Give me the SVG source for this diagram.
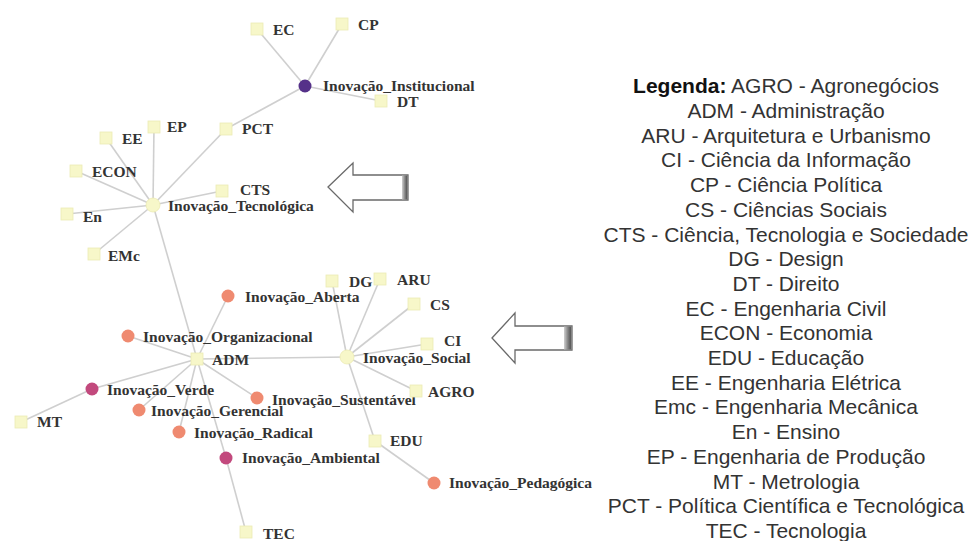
<svg xmlns="http://www.w3.org/2000/svg" width="972" height="541" viewBox="0 0 972 541">
<style>
.e{stroke:#cfcfcf;stroke-width:1.6;fill:none}
.sq{fill:#f7f7c9;stroke:#ecebb4;stroke-width:0.8}
.hub{fill:#f7f7c9;stroke:#ecebb4;stroke-width:0.8}
.sal{fill:#ef8a70}
.mag{fill:#c2497d}
.pur{fill:#553189}
.t{font-family:"Liberation Serif","Times New Roman",serif;font-weight:bold;font-size:15.5px;fill:#333}
.lg{font-family:"Liberation Sans",Arial,sans-serif;font-size:21px;fill:#333;text-anchor:middle}
.arr{fill:#fff;stroke:#6a6a6a;stroke-width:1.3;stroke-linejoin:miter}
</style>
<defs>
<linearGradient id="strip" x1="0" y1="0" x2="1" y2="0">
<stop offset="0" stop-color="#d0d0d0"/>
<stop offset="0.45" stop-color="#8a8a8a"/>
<stop offset="0.8" stop-color="#5a5a5a"/>
<stop offset="1" stop-color="#9a9a9a"/>
</linearGradient>
</defs>
<rect width="972" height="541" fill="#fff"/>
<g id="connectors">
<line class="e" x1="305" y1="86" x2="257" y2="29"/>
<line class="e" x1="305" y1="86" x2="342" y2="24"/>
<line class="e" x1="305" y1="86" x2="381" y2="101"/>
<line class="e" x1="305" y1="86" x2="226" y2="129"/>
<line class="e" x1="226" y1="129" x2="153" y2="205"/>
<line class="e" x1="153" y1="205" x2="106" y2="138"/>
<line class="e" x1="153" y1="205" x2="154" y2="127"/>
<line class="e" x1="153" y1="205" x2="76" y2="171"/>
<line class="e" x1="153" y1="205" x2="222" y2="191"/>
<line class="e" x1="153" y1="205" x2="67" y2="214"/>
<line class="e" x1="153" y1="205" x2="94" y2="254"/>
<line class="e" x1="153" y1="205" x2="197" y2="359"/>
<line class="e" x1="197" y1="359" x2="228" y2="296"/>
<line class="e" x1="197" y1="359" x2="128" y2="336"/>
<line class="e" x1="197" y1="359" x2="92" y2="389"/>
<line class="e" x1="197" y1="359" x2="139" y2="410"/>
<line class="e" x1="197" y1="359" x2="179" y2="432"/>
<line class="e" x1="197" y1="359" x2="226" y2="458"/>
<line class="e" x1="197" y1="359" x2="257" y2="398"/>
<line class="e" x1="197" y1="359" x2="347" y2="357"/>
<line class="e" x1="92" y1="389" x2="21" y2="422"/>
<line class="e" x1="226" y1="458" x2="246" y2="532"/>
<line class="e" x1="347" y1="357" x2="332" y2="281"/>
<line class="e" x1="347" y1="357" x2="380" y2="279"/>
<line class="e" x1="347" y1="357" x2="414" y2="304"/>
<line class="e" x1="347" y1="357" x2="427" y2="344"/>
<line class="e" x1="347" y1="357" x2="416" y2="391"/>
<line class="e" x1="347" y1="357" x2="375" y2="441"/>
<line class="e" x1="375" y1="441" x2="434" y2="483"/>
</g>
<g id="n-EC"><rect class="sq" x="251" y="23" width="12" height="12"/><text class="t" x="273" y="35">EC</text></g>
<g id="n-CP"><rect class="sq" x="336" y="18" width="12" height="12"/><text class="t" x="358" y="30">CP</text></g>
<g id="n-Institucional"><circle class="pur" cx="305" cy="86" r="6.5"/><text class="t" x="323" y="91">Inovação_Institucional</text></g>
<g id="n-DT"><rect class="sq" x="375" y="95" width="12" height="12"/><text class="t" x="397" y="107">DT</text></g>
<g id="n-PCT"><rect class="sq" x="220" y="123" width="12" height="12"/><text class="t" x="242" y="134">PCT</text></g>
<g id="n-EP"><rect class="sq" x="148" y="121" width="12" height="12"/><text class="t" x="167" y="132">EP</text></g>
<g id="n-EE"><rect class="sq" x="100" y="132" width="12" height="12"/><text class="t" x="122" y="144">EE</text></g>
<g id="n-ECON"><rect class="sq" x="70" y="165" width="12" height="12"/><text class="t" x="92" y="177">ECON</text></g>
<g id="n-CTS"><rect class="sq" x="216" y="185" width="12" height="12"/><text class="t" x="240" y="195">CTS</text></g>
<g id="n-Tecnologica"><circle class="hub" cx="153" cy="205" r="7"/><text class="t" x="168" y="211">Inovação_Tecnológica</text></g>
<g id="n-En"><rect class="sq" x="61" y="208" width="12" height="12"/><text class="t" x="83" y="222">En</text></g>
<g id="n-EMc"><rect class="sq" x="88" y="248" width="12" height="12"/><text class="t" x="108" y="261">EMc</text></g>
<g id="n-Aberta"><circle class="sal" cx="228" cy="296" r="6.5"/><text class="t" x="245" y="302">Inovação_Aberta</text></g>
<g id="n-Organizacional"><circle class="sal" cx="128" cy="336" r="6.5"/><text class="t" x="143" y="342">Inovação_Organizacional</text></g>
<g id="n-ADM"><rect class="sq" x="191" y="353" width="12" height="12"/><text class="t" x="212" y="365">ADM</text></g>
<g id="n-Verde"><circle class="mag" cx="92" cy="389" r="6.5"/><text class="t" x="107" y="395">Inovação_Verde</text></g>
<g id="n-Gerencial"><circle class="sal" cx="139" cy="410" r="6.5"/><text class="t" x="151" y="416">Inovação_Gerencial</text></g>
<g id="n-Sustentavel"><circle class="sal" cx="257" cy="398" r="6.5"/><text class="t" x="272" y="405">Inovação_Sustentável</text></g>
<g id="n-Radical"><circle class="sal" cx="179" cy="432" r="6.5"/><text class="t" x="194" y="438">Inovação_Radical</text></g>
<g id="n-Ambiental"><circle class="mag" cx="226" cy="458" r="6.5"/><text class="t" x="242" y="463">Inovação_Ambiental</text></g>
<g id="n-MT"><rect class="sq" x="15" y="416" width="12" height="12"/><text class="t" x="37" y="427">MT</text></g>
<g id="n-TEC"><rect class="sq" x="240" y="526" width="12" height="12"/><text class="t" x="263" y="539">TEC</text></g>
<g id="n-DG"><rect class="sq" x="326" y="275" width="12" height="12"/><text class="t" x="349" y="287">DG</text></g>
<g id="n-ARU"><rect class="sq" x="374" y="273" width="12" height="12"/><text class="t" x="397" y="285">ARU</text></g>
<g id="n-CS"><rect class="sq" x="408" y="298" width="12" height="12"/><text class="t" x="430" y="310">CS</text></g>
<g id="n-CI"><rect class="sq" x="421" y="338" width="12" height="12"/><text class="t" x="444" y="346">CI</text></g>
<g id="n-Social"><circle class="hub" cx="347" cy="357" r="7"/><text class="t" x="363" y="363">Inovação_Social</text></g>
<g id="n-AGRO"><rect class="sq" x="410" y="385" width="12" height="12"/><text class="t" x="428" y="397">AGRO</text></g>
<g id="n-EDU"><rect class="sq" x="369" y="435" width="12" height="12"/><text class="t" x="390" y="446">EDU</text></g>
<g id="n-Pedagogica"><circle class="sal" cx="434" cy="483" r="6.5"/><text class="t" x="449" y="488">Inovação_Pedagógica</text></g>
<g id="arrow1">
<polygon class="arr" points="328,187 353,163 353,175 408,175 408,200 353,200 353,212"/>
<rect x="402" y="175.6" width="6" height="23.8" fill="url(#strip)"/>
</g>
<g id="arrow2">
<polygon class="arr" points="492,338 515,313 515,326 572,326 572,350 515,350 515,363"/>
<rect x="564" y="326.6" width="8" height="22.8" fill="url(#strip)"/>
</g>
<g id="legend">
<text class="lg" x="786" y="93.3"><tspan font-weight="bold" fill="#111">Legenda:</tspan> AGRO - Agronegócios</text>
<text class="lg" x="786" y="118">ADM - Administração</text>
<text class="lg" x="786" y="142.7">ARU - Arquitetura e Urbanismo</text>
<text class="lg" x="786" y="167.4">CI - Ciência da Informação</text>
<text class="lg" x="786" y="192.1">CP - Ciência Política</text>
<text class="lg" x="786" y="216.8">CS - Ciências Sociais</text>
<text class="lg" x="786" y="241.5">CTS - Ciência, Tecnologia e Sociedade</text>
<text class="lg" x="786" y="266.2">DG - Design</text>
<text class="lg" x="786" y="290.9">DT - Direito</text>
<text class="lg" x="786" y="315.6">EC - Engenharia Civil</text>
<text class="lg" x="786" y="340.3">ECON - Economia</text>
<text class="lg" x="786" y="365">EDU - Educação</text>
<text class="lg" x="786" y="389.7">EE - Engenharia Elétrica</text>
<text class="lg" x="786" y="414.4">Emc - Engenharia Mecânica</text>
<text class="lg" x="786" y="439.1">En - Ensino</text>
<text class="lg" x="786" y="463.8">EP - Engenharia de Produção</text>
<text class="lg" x="786" y="488.5">MT - Metrologia</text>
<text class="lg" x="786" y="513.2">PCT - Política Científica e Tecnológica</text>
<text class="lg" x="786" y="537.9">TEC - Tecnologia</text>
</g>
</svg>
